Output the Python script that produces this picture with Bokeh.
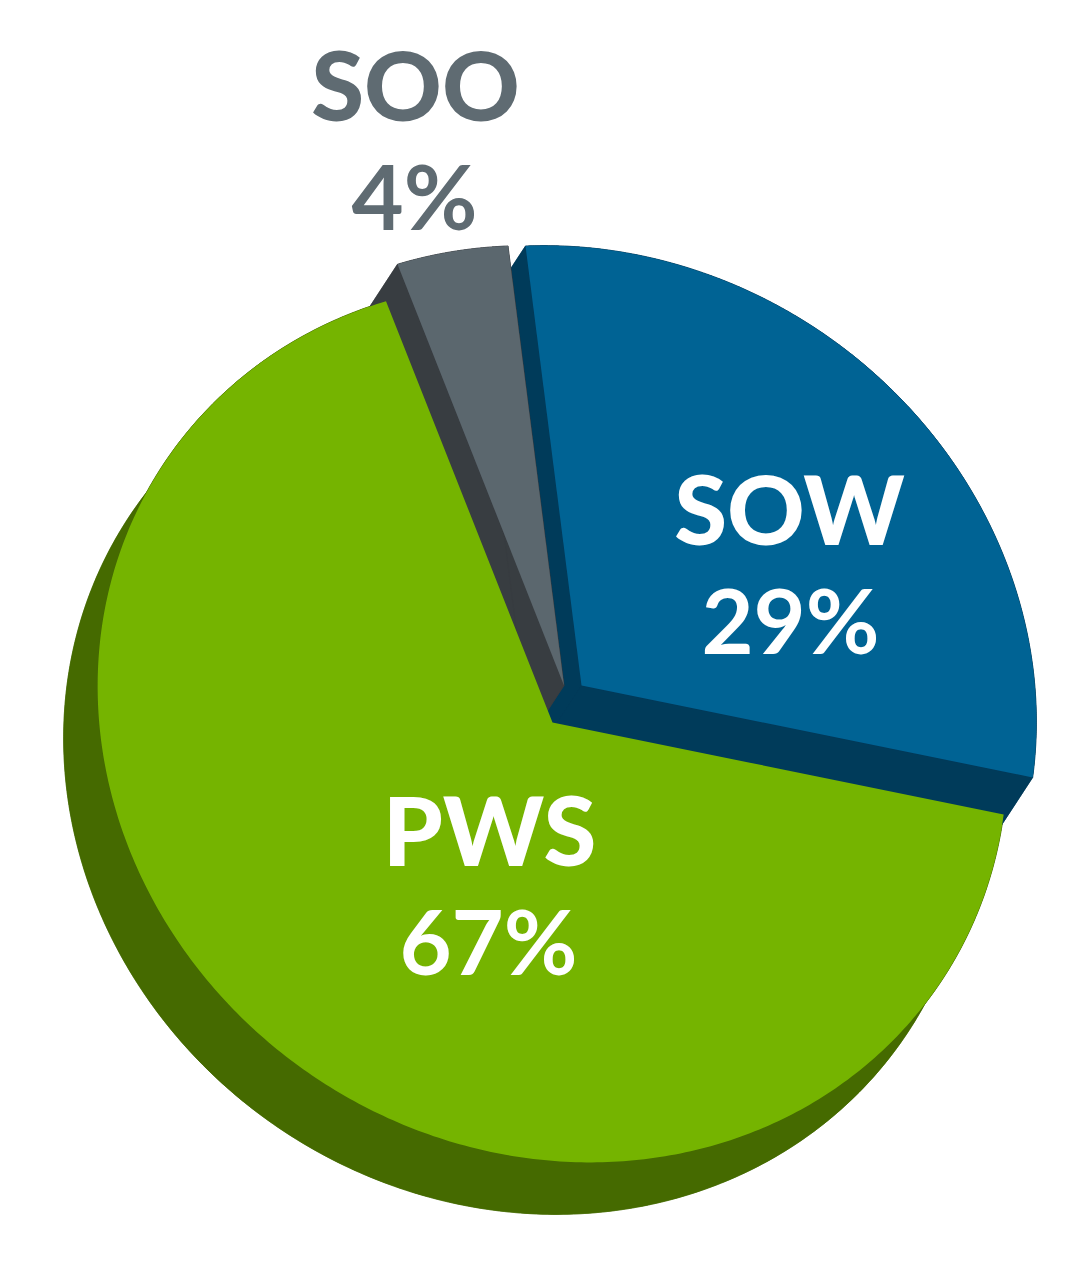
import numpy as np
from bokeh.plotting import figure
from bokeh.models import Range1d
from bokeh.core.properties import value
from bokeh.embed import file_html
from bokeh.resources import INLINE

labels = ["SOO", "SOW", "PWS"]
shares = [4, 29, 67]
share_labels = ["4%", "29%", "67%"]
top_colors = ["#5b676e", "#006394", "#75b400"]
side_colors = ["#383d41", "#003b5a", "#456a00"]
text_colors = ["#5f6b72", "#ffffff", "#ffffff"]

centers = {"SOO": (563.5, 685), "SOW": (581, 685), "PWS": (552, 722)}
M = np.array([[454.5, 18.5], [18.5, 439.5]])
depth = np.array([-34.0, 52.0])
start_deg = -19.14
label_pos = {"SOO": (415, 83), "SOW": (789, 507), "PWS": (489, 828)}
share_pos = {"SOO": (414, 194), "SOW": (790, 618), "PWS": (488, 939)}

p = figure(width=1072, height=1256, output_backend="svg", toolbar_location=None,
           x_range=Range1d(0, 1072), y_range=Range1d(1256, 0), min_border=0)
p.axis.visible = False
p.grid.visible = False
p.outline_line_color = None
p.background_fill_color = "#ffffff"
p.border_fill_color = "#ffffff"


def arc_points(name, a0, a1):
    t = np.radians(np.linspace(a0, a1, 361))
    u = np.vstack([np.sin(t), -np.cos(t)])
    return (M @ u).T + np.array(centers[name])


arcs = {}
a = start_deg
for name, s in zip(labels, shares):
    arcs[name] = arc_points(name, a, a + s * 3.6)
    a += s * 3.6


def sector(name, shift=np.zeros(2)):
    pts = np.vstack([[centers[name]], arcs[name]]) + shift
    return pts[:, 0], pts[:, 1]


def side(name, color):
    x, y = sector(name, depth)
    p.patch(x, y, fill_color=color, line_color=color, line_width=0.5)
    x0, y0 = sector(name)
    p.patch(x0, y0, fill_color=color, line_color=color, line_width=0.5)
    arc = arcs[name]
    band = np.vstack([arc, (arc + depth)[::-1]])
    p.patch(band[:, 0], band[:, 1], fill_color=color, line_color=color, line_width=0.5)
    # swept radial edges
    for e in (arc[0], arc[-1]):
        c = np.array(centers[name])
        q = np.vstack([c, e, e + depth, c + depth])
        p.patch(q[:, 0], q[:, 1], fill_color=color, line_color=color, line_width=0.5)


def top(name, color):
    x, y = sector(name)
    p.patch(x, y, fill_color=color, line_color=None)


idx = {n: i for i, n in enumerate(labels)}
side("PWS", side_colors[idx["PWS"]])
side("SOW", side_colors[idx["SOW"]])
top("SOW", top_colors[idx["SOW"]])
side("SOO", side_colors[idx["SOO"]])
top("SOO", top_colors[idx["SOO"]])
top("PWS", top_colors[idx["PWS"]])

for i, n in enumerate(labels):
    p.text([label_pos[n][0]], [label_pos[n][1]], text=[n], text_font=value("Lato Black"),
           text_font_style="bold", text_font_size="96px", text_color=text_colors[i],
           text_align="center", text_baseline="middle")
    p.text([share_pos[n][0]], [share_pos[n][1]], text=[share_labels[i]], text_font=value("Lato"),
           text_font_style="bold", text_font_size="90px", text_color=text_colors[i],
           text_align="center", text_baseline="middle")

open("out.html", "w").write(file_html(p, INLINE))
